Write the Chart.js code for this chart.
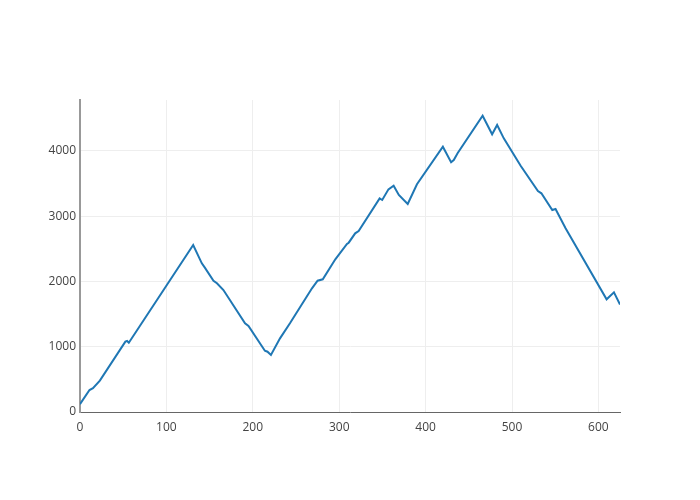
<!DOCTYPE html>
<html>
<head>
<meta charset="utf-8">
<script src="https://cdn.jsdelivr.net/npm/chart.js@4"></script>
<style>
  html, body { margin: 0; padding: 0; background: #fff; }
  #wrap { width: 700px; height: 500px; }
</style>
</head>
<body>
<div id="wrap"><canvas id="chart" width="700" height="500"></canvas></div>
<script>
// vertices
const xValues = [0, 11, 15, 23, 52.5, 54.5, 56.5, 131, 141, 144.5, 154.5, 158.5, 166, 191, 195, 214, 217, 221,
  231.5, 243, 268.5, 275, 281, 295.5, 309, 311, 318.5, 322.5, 346.8, 349.8, 357, 363, 369, 379.3, 390,
  420, 429.5, 432.6, 437, 466, 477, 482.8, 490.5, 510, 530, 534, 546.6, 550.4, 554, 562, 609.5, 618, 625];
const yValues = [120, 337, 365, 480, 1077, 1087, 1061, 2557, 2277, 2210, 2011, 1971, 1868, 1358, 1317, 939, 923, 873,
  1128, 1358, 1894, 2011, 2032, 2338, 2573, 2593, 2736, 2772, 3272, 3247, 3410, 3466, 3323, 3185, 3487,
  4063, 3824, 3859, 3962, 4537, 4253, 4395, 4191, 3772, 3384, 3349, 3093, 3109, 3017, 2813, 1726, 1833, 1645];

const xTicks = [0, 100, 200, 300, 400, 500, 600];
const yTicks = [0, 1000, 2000, 3000, 4000];

const points = xValues.map((x, i) => ({ x: x, y: yValues[i] }));

Chart.defaults.font.family = '"Open Sans", sans-serif';
Chart.defaults.font.size = 12;
Chart.defaults.color = '#444';

new Chart(document.getElementById('chart'), {
    type: 'line',
    data: {
        datasets: [{
            data: points,
            borderColor: '#1f77b4',
            borderWidth: 2,
            pointRadius: 0,
            tension: 0,
            fill: false
        }]
    },
    options: {
        responsive: false,
        animation: false,
        events: [],
        layout: { padding: { top: 100, right: 80, left: 0, bottom: 0 } },
        plugins: { legend: { display: false }, tooltip: { enabled: false } },
        scales: {
            x: {
                type: 'linear',
                min: 0,
                max: 625,
                afterFit: scale => { scale.height = 88; },
                afterBuildTicks: scale => { scale.ticks = xTicks.map(v => ({ value: v })); },
                grid: { color: '#eee', drawTicks: false },
                border: { color: '#666', width: 1 },
                ticks: { padding: 8, maxRotation: 0, autoSkip: false, callback: v => String(v) }
            },
            y: {
                min: 0,
                max: 4778,
                afterFit: scale => { scale.width = 80; },
                afterBuildTicks: scale => { scale.ticks = yTicks.map(v => ({ value: v })); },
                grid: { color: '#eee', drawTicks: false },
                border: { color: '#999', width: 2 },
                ticks: { padding: 4, autoSkip: false, callback: v => String(v) }
            }
        }
    }
});
</script>
</body>
</html>
